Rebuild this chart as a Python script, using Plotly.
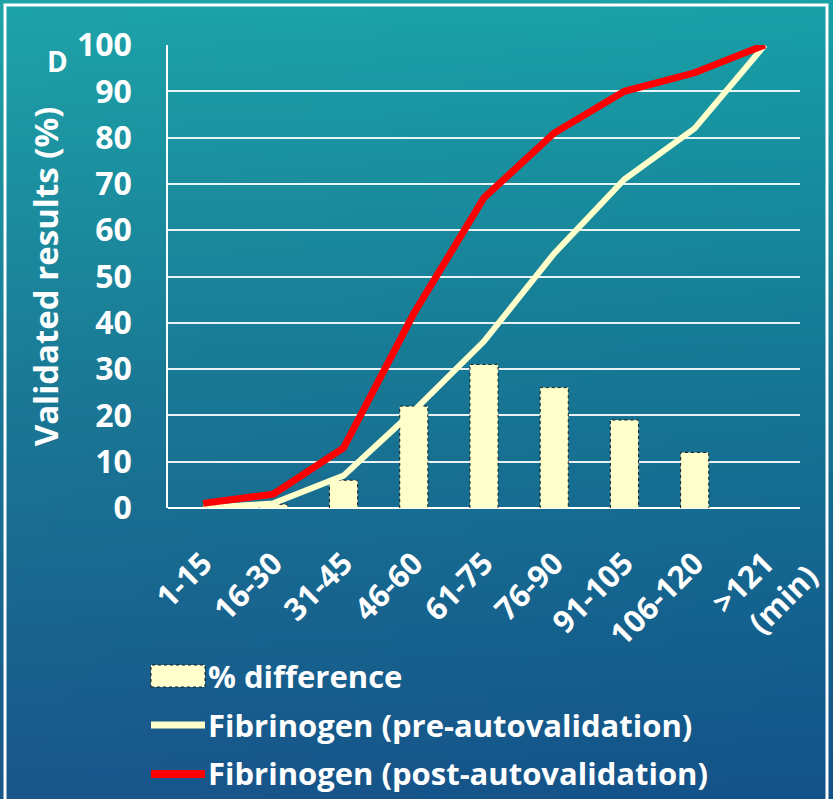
import base64
import struct
import zlib

import numpy as np
import plotly.graph_objects as go

# ---- data -------------------------------------------------------------
categories = ["1-15", "16-30", "31-45", "46-60", "61-75", "76-90", "91-105", "106-120", ">121"]
pct_difference = [0, 0.8, 6, 22, 31, 26, 19, 12, 0]
pre_autovalidation = [0, 1, 7, 21, 36, 55, 71, 82, 100]
post_autovalidation = [1, 3, 13, 42, 67, 81, 90, 94, 100]
y_ticks = [0, 10, 20, 30, 40, 50, 60, 70, 80, 90, 100]

# ---- canvas geometry (pixels) ------------------------------------------
W, H = 833, 799
L, R, T, B = 168, 800, 45, 508          # plot-area edges
PW, PH = R - L, B - T

FONT = "Open Sans"
WHITE = "#ffffff"
CREAM = "#ffffcc"
RED = "#ff0000"


def px(x):
    return (x - L) / PW


def py(y):
    return (B - y) / PH


def png_data_uri(rgb):
    h, w, _ = rgb.shape
    raw = b"".join(b"\x00" + rgb[r].tobytes() for r in range(h))

    def chunk(tag, data):
        c = struct.pack(">I", len(data)) + tag + data
        return c + struct.pack(">I", zlib.crc32(tag + data) & 0xFFFFFFFF)

    png = (b"\x89PNG\r\n\x1a\n"
           + chunk(b"IHDR", struct.pack(">IIBBBBB", w, h, 8, 2, 0, 0, 0))
           + chunk(b"IDAT", zlib.compress(raw, 9))
           + chunk(b"IEND", b""))
    return "data:image/png;base64," + base64.b64encode(png).decode()


# teal-to-blue slide background
yy, xx = np.mgrid[0:H, 0:W]
t = yy / (H - 1)
s = xx / (W - 1)
top = np.array([27, 162, 168], float)
mid = np.array([24, 118, 148], float)
bot = np.array([22, 84, 138], float)
tt = t[..., None]
col = np.where(tt < 0.5, top + (mid - top) * (tt / 0.5), mid + (bot - mid) * ((tt - 0.5) / 0.5))
col = col - 6 * (s[..., None] - 0.5) * np.array([1, 0.6, 0.2])
bg = np.clip(col, 0, 255).astype(np.uint8)
bg_uri = png_data_uri(bg)

x_idx = list(range(len(categories)))
bar_w = 0.4

fig = go.Figure()

fig.add_trace(go.Bar(
    x=x_idx, y=pct_difference, width=bar_w,
    marker=dict(color=CREAM, line=dict(width=0)),
    name="% difference", showlegend=False,
))

# dashed outline around each bar
ox, oy = [], []
for i, v in zip(x_idx, pct_difference):
    if v <= 0:
        continue
    ox += [i - bar_w / 2, i - bar_w / 2, i + bar_w / 2, i + bar_w / 2, None]
    oy += [0, v, v, 0, None]
fig.add_trace(go.Scatter(
    x=ox, y=oy, mode="lines", line=dict(color="#1a1a1a", width=1, dash="dot"),
    hoverinfo="skip", showlegend=False,
))

fig.add_trace(go.Scatter(
    x=x_idx, y=pre_autovalidation, mode="lines",
    line=dict(color=CREAM, width=6),
    name="Fibrinogen (pre-autovalidation)", showlegend=False,
))
fig.add_trace(go.Scatter(
    x=x_idx, y=post_autovalidation, mode="lines",
    line=dict(color=RED, width=7),
    name="Fibrinogen (post-autovalidation)", showlegend=False,
))

shapes = [
    # white slide frame
    dict(type="rect", xref="paper", yref="paper",
         x0=px(5), x1=px(827), y0=py(812), y1=py(5),
         line=dict(color=WHITE, width=3), layer="below"),
    # legend swatches
    dict(type="rect", xref="paper", yref="paper",
         x0=px(151), x1=px(205), y0=py(687), y1=py(665),
         fillcolor=CREAM, line=dict(color="#1a1a1a", width=1, dash="dot")),
    dict(type="line", xref="paper", yref="paper",
         x0=px(151), x1=px(205), y0=py(725), y1=py(725),
         line=dict(color=CREAM, width=7)),
    dict(type="line", xref="paper", yref="paper",
         x0=px(151), x1=px(205), y0=py(774), y1=py(774),
         line=dict(color=RED, width=8)),
]

annotations = [
    dict(text="D", xref="paper", yref="paper", x=px(57), y=py(61),
         xanchor="center", yanchor="middle", showarrow=False,
         font=dict(family=FONT, size=28, color=WHITE, weight="bold")),
    dict(text="(min)", xref="paper", yref="paper", x=px(782), y=py(599),
         xanchor="center", yanchor="middle", showarrow=False, textangle=-45,
         font=dict(family=FONT, size=31, color=WHITE, weight="bold")),
]
for label, yc in [("% difference", 676), ("Fibrinogen (pre-autovalidation)", 725),
                  ("Fibrinogen (post-autovalidation)", 773)]:
    annotations.append(dict(
        text=label, xref="paper", yref="paper", x=px(206), y=py(yc),
        xanchor="left", yanchor="middle", showarrow=False,
        font=dict(family=FONT, size=31, color=WHITE, weight="bold"),
    ))

fig.update_layout(
    width=W, height=H,
    margin=dict(l=L, r=W - R, t=T, b=H - B),
    paper_bgcolor="#17709a",
    plot_bgcolor="rgba(0,0,0,0)",
    showlegend=False,
    images=[dict(source=bg_uri, xref="paper", yref="paper",
                 x=px(0), y=py(0), sizex=W / PW, sizey=H / PH,
                 xanchor="left", yanchor="top", sizing="stretch", layer="below")],
    shapes=shapes,
    annotations=annotations,
    xaxis=dict(
        range=[-0.5, len(categories) - 0.5],
        tickmode="array", tickvals=x_idx, ticktext=categories,
        tickangle=-45, ticks="", showgrid=False, zeroline=False,
        showline=False,
        tickfont=dict(family=FONT, size=31, color=WHITE, weight="bold"),
        ticklabelstandoff=30,
    ),
    yaxis=dict(
        range=[0, 100], tickmode="array", tickvals=y_ticks,
        showgrid=True, gridcolor="rgba(255,255,255,0.9)", gridwidth=1.5,
        zeroline=True, zerolinecolor=WHITE, zerolinewidth=1.5,
        showline=True, linecolor=WHITE, linewidth=1.5, ticks="",
        tickfont=dict(family=FONT, size=32, color=WHITE, weight="bold"),
        ticklabelstandoff=28,
        title=dict(text="Validated results (%)", standoff=8,
                   font=dict(family=FONT, size=33, color=WHITE, weight="bold")),
    ),
)

fig.write_html("out.html")
